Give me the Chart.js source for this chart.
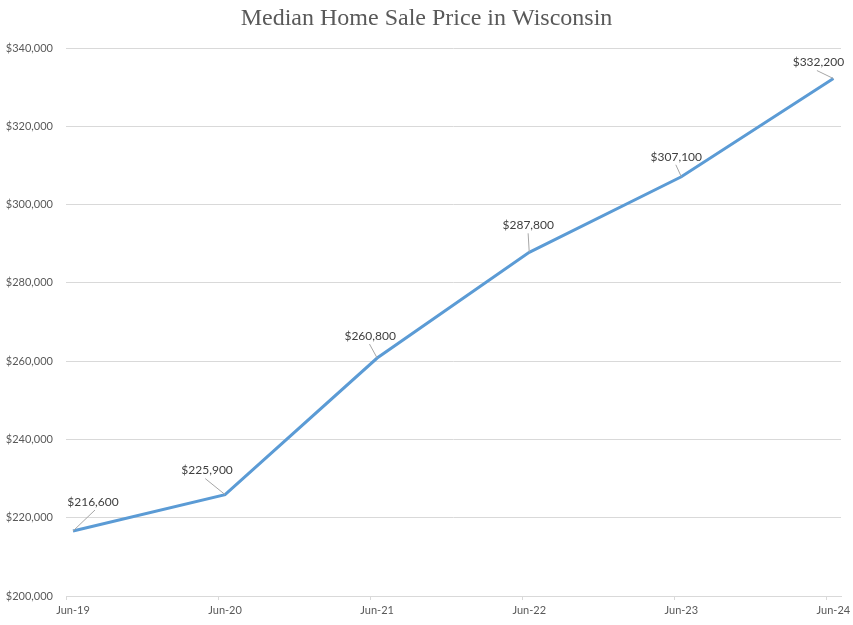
<!DOCTYPE html>
<html><head><meta charset="utf-8">
<script src="https://cdn.jsdelivr.net/npm/chart.js@4/dist/chart.umd.min.js"></script>
<style>html,body{margin:0;padding:0;background:#fff}#wrap{width:853px;height:625px}</style>
</head><body><div id="wrap"><canvas id="c"></canvas></div>
<script>
const categories = ["Jun-19","Jun-20","Jun-21","Jun-22","Jun-23","Jun-24"];
const prices = [216600, 225900, 260800, 287800, 307100, 332200];
const yTicks = [200000,220000,240000,260000,280000,300000,320000,340000];
const titleText = "Median Home Sale Price in Wisconsin";

const labelOffsets = [[20,-29],[-18,-24],[-7,-22],[-1,-27],[-5,-20],[-15,-16]];
const fmt = v => "$" + v.toLocaleString("en-US");

const dataLabels = {
  id: "dataLabels",
  afterDatasetsDraw(chart) {
    const ctx = chart.ctx;
    const meta = chart.getDatasetMeta(0);
    ctx.save();
    ctx.font = "12px Lato, 'Open Sans', sans-serif";
    ctx.textAlign = "center";
    ctx.textBaseline = "middle";
    meta.data.forEach((pt, i) => {
      const [dx, dy] = labelOffsets[i];
      const cx = pt.x + dx, cy = pt.y + dy;
      ctx.strokeStyle = "#A6A6A6";
      ctx.lineWidth = 1;
      ctx.beginPath();
      ctx.moveTo(cx + dx*0.1, cy + 8);
      ctx.lineTo(pt.x, pt.y);
      ctx.stroke();
      ctx.fillStyle = "#404040";
      ctx.fillText(fmt(prices[i]), cx, cy);
    });
    ctx.restore();
  }
};

const xTickMarks = {
  id: "xTickMarks",
  afterDraw(chart) {
    const ctx = chart.ctx, a = chart.chartArea, xs = chart.scales.x;
    const step = xs.getPixelForValue(1) - xs.getPixelForValue(0);
    ctx.save();
    ctx.strokeStyle = "#D9D9D9";
    ctx.lineWidth = 1;
    for (let k = 0; k < categories.length; k++) {
      const x = Math.round(a.left + k*step) + 0.5;
      ctx.beginPath(); ctx.moveTo(x, a.bottom); ctx.lineTo(x, a.bottom + 4); ctx.stroke();
    }
    ctx.restore();
  }
};

new Chart(document.getElementById("c"), {
  type: "line",
  data: {
    datasets: [{
      data: prices.map((v, i) => ({x: i, y: v})),
      borderColor: "#5B9BD5",
      borderWidth: 3,
      pointRadius: 0,
      tension: 0,
      fill: false
    }]
  },
  options: {
    responsive: true,
    maintainAspectRatio: false,
    animation: false,
    layout: { padding: 0 },
    plugins: {
      legend: { display: false },
      tooltip: { enabled: false },
      title: {
        display: true,
        text: titleText,
        color: "#595959",
        font: { family: "'Liberation Serif', 'DejaVu Serif', serif", size: 24, weight: "normal" },
        padding: { top: 4, bottom: 15.2 }
      }
    },
    scales: {
      x: {
        type: "linear",
        min: -0.046,
        max: 5.05,
        afterBuildTicks(s) { s.ticks = categories.map((c, i) => ({value: i})); },
        afterFit(s) { s.height = 29; s.paddingLeft = 0; s.paddingRight = 12; },
        grid: { display: false, drawTicks: false },
        border: { display: true, color: "#D9D9D9", width: 1 },
        ticks: {
          callback: (v) => categories[v],
          color: "#595959",
          font: { family: "Lato, 'Open Sans', sans-serif", size: 11 },
          padding: 8,
          maxRotation: 0,
          autoSkip: false
        }
      },
      y: {
        min: 200000,
        max: 340000,
        afterBuildTicks(s) { s.ticks = yTicks.map(v => ({value: v})); },
        afterFit(s) { s.width = 66; },
        grid: { color: "#D9D9D9", drawTicks: false },
        border: { display: false },
        ticks: {
          callback: (v) => fmt(v),
          color: "#595959",
          font: { family: "Lato, 'Open Sans', sans-serif", size: 11 },
          padding: 13
        }
      }
    }
  },
  plugins: [dataLabels, xTickMarks]
});
</script></body></html>
